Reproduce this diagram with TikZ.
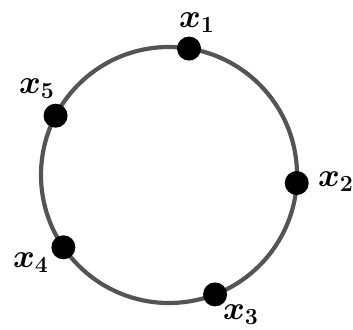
\RequirePackage{fix-cm}
\documentclass[tikz,border=0pt]{standalone}
\usepackage{amsmath,bm}
\usetikzlibrary{calc}
\begin{document}
\begin{tikzpicture}[x=1pt,y=1pt,
  ring/.style={draw=black!67,line width=4.2pt},
  dot/.style={circle,fill=black,inner sep=0pt,minimum size=24pt},
  lab/.style={font=\fontsize{20}{22}\selectfont,inner sep=0pt,scale=1.65,transform shape}]
\useasboundingbox (0,0) rectangle (353,329);
\coordinate (c) at (169,154);
\draw[ring] (c) circle (128);
\node[dot] (p1) at ($(c)+(81:128)$) {};
\node[dot] (p2) at ($(c)+(-3.6:128)$) {};
\node[dot] (p3) at ($(c)+(-68.9:128)$) {};
\node[dot] (p4) at ($(c)+(-145.6:128)$) {};
\node[dot] (p5) at ($(c)+(152.4:128)$) {};
\node[lab] (l1) at (197,306) {$\bm{x}_{\bm{1}}$};
\node[lab] (l2) at (336,147) {$\bm{x}_{\bm{2}}$};
\node[lab] (l3) at (241,14) {$\bm{x}_{\bm{3}}$};
\node[lab] (l4) at (31,66) {$\bm{x}_{\bm{4}}$};
\node[lab] (l5) at (37,240) {$\bm{x}_{\bm{5}}$};
\end{tikzpicture}
\end{document}
